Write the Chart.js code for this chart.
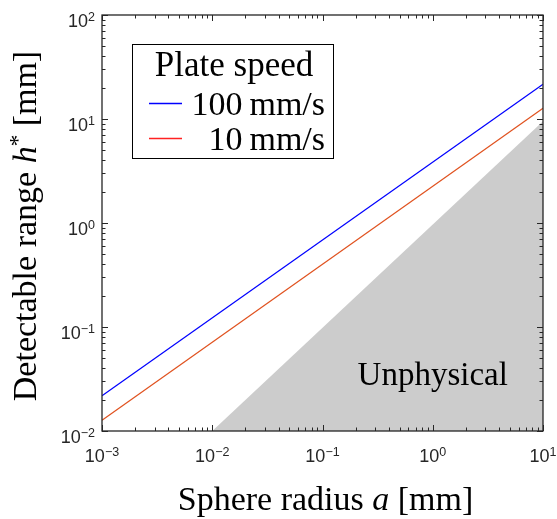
<!DOCTYPE html>
<html><head><meta charset="utf-8">
<script src="https://cdn.jsdelivr.net/npm/chart.js@4/dist/chart.umd.min.js"></script>
<style>html,body{margin:0;padding:0;background:#fff}canvas{display:block}</style>
</head><body><canvas id="c" width="557" height="519"></canvas>
<script>
// ---- data ----
const radius = [0.001, 10];            // sphere radius a [mm]
const range100 = [0.0218, 21.6];       // detectable range h* at 100 mm/s
const range10 = [0.0127, 12.7];        // detectable range h* at 10 mm/s
const unphysRadius = [0.01, 10];       // boundary of unphysical region
const unphysRange = [0.01, 9.5];
const xTickValues = [0.001, 0.01, 0.1, 1, 10];
const xTickExps = ['\u22123', '\u22122', '\u22121', '0', '1'];
const yTickValues = [0.01, 0.1, 1, 10, 100];
const yTickExps = ['\u22122', '\u22121', '0', '1', '2'];
const minorMantissas = [2, 3, 4, 5, 6, 7, 8, 9];
const legendTitle = 'Plate speed';
const seriesLabels = ['100\u2009mm/s', '10\u2009mm/s'];
const regionLabel = 'Unphysical';

const SERIF = '"Liberation Serif", "Times New Roman", serif';
const SANS = '"Liberation Sans", Arial, sans-serif';
const FS = 34;
const lineColors = ['#0000ff', '#e0521f'];
const legendColors = ['#0000ff', '#ff2222'];

function tickList(values) {
  const out = [];
  values.forEach((v, i) => {
    out.push({ value: v, major: true });
    if (i < values.length - 1) minorMantissas.forEach(m => out.push({ value: v * m, major: false }));
  });
  return out;
}

function drawRuns(ctx, runs, x, y, align) {
  let total = 0;
  runs.forEach(r => { ctx.font = r.font; r.w = ctx.measureText(r.t).width; total += r.w; });
  let cx = align === 'center' ? x - total / 2 : (align === 'right' ? x - total : x);
  ctx.textAlign = 'left';
  ctx.textBaseline = 'alphabetic';
  runs.forEach(r => { ctx.font = r.font; ctx.fillText(r.t, cx, y + (r.dy || 0)); cx += r.w; });
}

const decorPlugin = {
  id: 'decor',
  afterDatasetsDraw(chart) {
    const ctx = chart.ctx;
    const a = chart.chartArea;
    const xs = chart.scales.x, ys = chart.scales.y;
    ctx.save();
    // region label
    ctx.fillStyle = '#000';
    drawRuns(ctx, [{ t: regionLabel, font: '33px ' + SERIF }], xs.getPixelForValue(1.0), ys.getPixelForValue(0.0277), 'center');
    // axes box
    ctx.strokeStyle = '#262626';
    ctx.lineWidth = 1.3;
    ctx.strokeRect(a.left, a.top, a.right - a.left, a.bottom - a.top);
    // ticks (inward, all four sides)
    ctx.lineWidth = 1;
    ctx.beginPath();
    xs.ticks.forEach(t => {
      if (t.value < xs.min || t.value > xs.max) return;
      const px = Math.round(xs.getPixelForValue(t.value)) + 0.5;
      const L = t.major ? 6 : 3.5;
      ctx.moveTo(px, a.bottom); ctx.lineTo(px, a.bottom - L);
      ctx.moveTo(px, a.top); ctx.lineTo(px, a.top + L);
    });
    ys.ticks.forEach(t => {
      if (t.value < ys.min || t.value > ys.max) return;
      const py = Math.round(ys.getPixelForValue(t.value)) + 0.5;
      const L = t.major ? 6 : 3.5;
      ctx.moveTo(a.left, py); ctx.lineTo(a.left + L, py);
      ctx.moveTo(a.right, py); ctx.lineTo(a.right - L, py);
    });
    ctx.stroke();
    // tick labels
    ctx.fillStyle = '#262626';
    const big = '18px ' + SANS, small = '12.5px ' + SANS;
    xTickValues.forEach((v, i) => {
      const px = xs.getPixelForValue(v);
      drawRuns(ctx, [{ t: '10', font: big }, { t: xTickExps[i], font: small, dy: -6 }], px, a.bottom + 31, 'center');
    });
    yTickValues.forEach((v, i) => {
      const py = ys.getPixelForValue(v);
      drawRuns(ctx, [{ t: '10', font: big }, { t: yTickExps[i], font: small, dy: -6 }], a.left - 7, py + 12, 'right');
    });
    // axis titles
    ctx.fillStyle = '#000';
    const norm = FS + 'px ' + SERIF, ital = 'italic ' + FS + 'px ' + SERIF, sup = '23px ' + SERIF;
    drawRuns(ctx, [{ t: 'Sphere radius ', font: norm }, { t: 'a', font: ital }, { t: ' [mm]', font: norm }],
      (a.left + a.right) / 2 + 3, 510, 'center');
    ctx.save();
    ctx.translate(36, (a.top + a.bottom) / 2 + 3);
    ctx.rotate(-Math.PI / 2);
    drawRuns(ctx, [{ t: 'Detectable range ', font: norm }, { t: 'h', font: ital }, { t: '*', font: sup, dy: -11 },
      { t: ' [mm]', font: norm }], 0, 0, 'center');
    ctx.restore();
    // legend
    const L = { left: 132.5, top: 44.5, right: 333.5, bottom: 158.5 };
    ctx.fillStyle = '#fff';
    ctx.fillRect(L.left, L.top, L.right - L.left, L.bottom - L.top);
    ctx.strokeStyle = '#000';
    ctx.lineWidth = 1;
    ctx.strokeRect(L.left, L.top, L.right - L.left, L.bottom - L.top);
    ctx.fillStyle = '#000';
    drawRuns(ctx, [{ t: legendTitle, font: '35px ' + SERIF }], 234, 76, 'center');
    const rowsY = [103.5, 138.5];
    const baseY = [115, 150];
    seriesLabels.forEach((lab, i) => {
      ctx.strokeStyle = legendColors[i];
      ctx.lineWidth = 1.3;
      ctx.beginPath(); ctx.moveTo(149, rowsY[i]); ctx.lineTo(182, rowsY[i]); ctx.stroke();
      ctx.fillStyle = '#000';
      drawRuns(ctx, [{ t: lab, font: norm }], 325, baseY[i], 'right');
    });
    ctx.restore();
  }
};

new Chart(document.getElementById('c'), {
  type: 'line',
  data: {
    datasets: [
      { label: seriesLabels[0], data: radius.map((x, i) => ({ x, y: range100[i] })),
        borderColor: lineColors[0], borderWidth: 1.2, pointRadius: 0, fill: false, order: 1 },
      { label: seriesLabels[1], data: radius.map((x, i) => ({ x, y: range10[i] })),
        borderColor: lineColors[1], borderWidth: 1.2, pointRadius: 0, fill: false, order: 1 },
      { label: regionLabel, data: unphysRadius.map((x, i) => ({ x, y: unphysRange[i] })),
        borderColor: 'rgba(0,0,0,0)', borderWidth: 0, backgroundColor: '#cccccc',
        pointRadius: 0, fill: 'start', order: 5 }
    ]
  },
  options: {
    responsive: false,
    animation: false,
    events: [],
    layout: { padding: { top: 15, right: 14, left: 0, bottom: 0 } },
    plugins: { legend: { display: false }, tooltip: { enabled: false } },
    scales: {
      x: {
        type: 'logarithmic', min: 0.001, max: 10,
        grid: { display: false }, border: { display: false },
        ticks: { display: false },
        afterBuildTicks: s => { s.ticks = tickList(xTickValues); },
        afterFit: s => { s.height = 88; }
      },
      y: {
        type: 'logarithmic', min: 0.01, max: 100,
        grid: { display: false }, border: { display: false },
        ticks: { display: false },
        afterBuildTicks: s => { s.ticks = tickList(yTickValues); },
        afterFit: s => { s.width = 102; }
      }
    }
  },
  plugins: [decorPlugin]
});
</script>
</body></html>
